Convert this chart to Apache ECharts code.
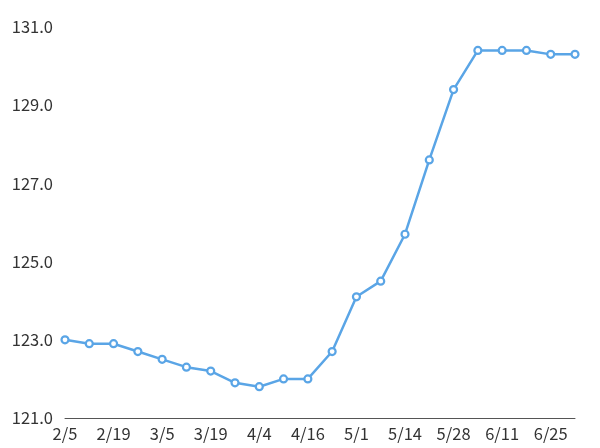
<!DOCTYPE html>
<html><head><meta charset="utf-8">
<script src="https://cdn.jsdelivr.net/npm/echarts@6/dist/echarts.min.js"></script>
<style>html,body{margin:0;padding:0;background:#fff}#c{width:600px;height:448px}</style>
</head><body><div id="c"></div>
<script>
const categories = ['2/5','2/12','2/19','2/26','3/5','3/12','3/19','3/26','4/4','4/10','4/16','4/23','5/1','5/7','5/14','5/21','5/28','6/4','6/11','6/18','6/25','7/2'];
const values = [123.0,122.9,122.9,122.7,122.5,122.3,122.2,121.9,121.8,122.0,122.0,122.7,124.1,124.5,125.7,127.6,129.4,130.4,130.4,130.4,130.3,130.3];
const yMin = 121, yMax = 131, yStep = 2;
const chart = echarts.init(document.getElementById('c'));
const font = '"Noto Sans CJK JP", "Noto Sans", sans-serif';
chart.setOption({
  animation: false,
  grid: {left: 65, right: 25, top: 27, bottom: 30},
  xAxis: {
    type: 'category', data: categories, boundaryGap: false,
    axisLine: {lineStyle: {color: '#555', width: 1}},
    axisTick: {show: false},
    axisLabel: {interval: 1, color: '#333', fontSize: 16.5, fontFamily: font, margin: 7}
  },
  yAxis: {
    type: 'value', min: yMin, max: yMax, interval: yStep,
    axisLine: {show: false}, axisTick: {show: false}, splitLine: {show: false},
    axisLabel: {color: '#333', fontSize: 16.5, fontFamily: font, margin: 12, formatter: v => v.toFixed(1)}
  },
  series: [{
    type: 'line', data: values,
    lineStyle: {color: '#5AA5E6', width: 2.5},
    symbol: 'circle', symbolSize: 7,
    itemStyle: {color: '#fff', borderColor: '#5AA5E6', borderWidth: 2.2}
  }]
});
</script></body></html>
